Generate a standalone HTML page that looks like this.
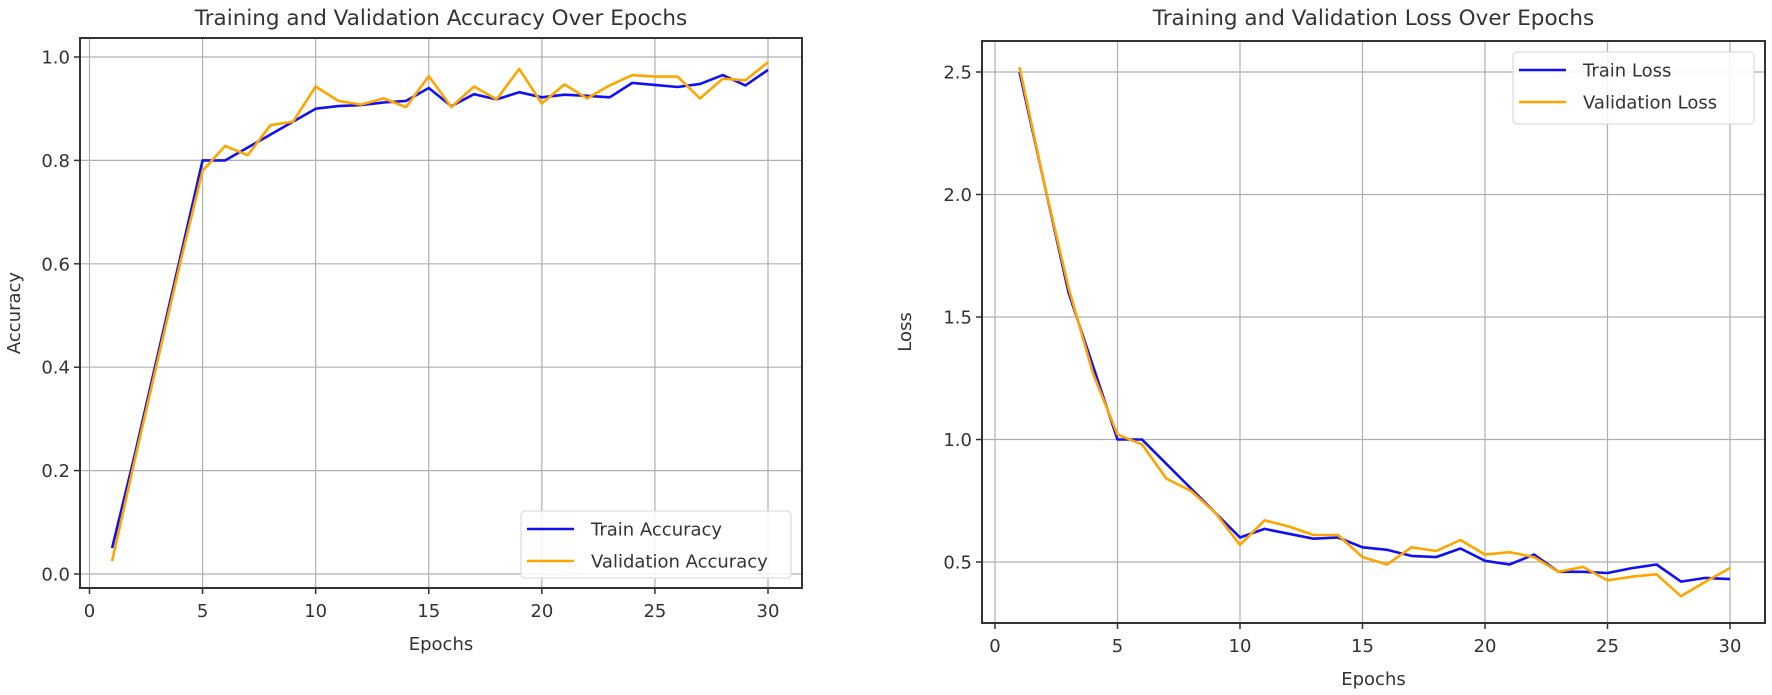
<!DOCTYPE html>
<html><head><meta charset="utf-8"><style>
html,body{margin:0;padding:0;background:#fff;}
svg{display:block;font-family:"DejaVu Sans","Liberation Sans",sans-serif;}
</style></head><body>
<svg id="fig" width="1772" height="695" viewBox="0 0 1772 695"></svg>
<script>
const epochs = [1,2,3,4,5,6,7,8,9,10,11,12,13,14,15,16,17,18,19,20,21,22,23,24,25,26,27,28,29,30];
const trainAcc = [0.05,0.23,0.42,0.61,0.80,0.80,0.825,0.85,0.875,0.90,0.905,0.907,0.912,0.915,0.94,0.905,0.928,0.918,0.932,0.922,0.927,0.925,0.922,0.95,0.946,0.942,0.948,0.965,0.945,0.975];
const valAcc = [0.025,0.22,0.41,0.60,0.78,0.828,0.81,0.868,0.875,0.943,0.915,0.908,0.92,0.903,0.963,0.903,0.943,0.918,0.977,0.91,0.947,0.92,0.945,0.965,0.962,0.962,0.92,0.958,0.955,0.99];
const trainLoss = [2.5,2.05,1.6,1.3,1.0,1.0,0.9,0.8,0.7,0.6,0.635,0.615,0.595,0.6,0.56,0.55,0.525,0.52,0.555,0.505,0.49,0.53,0.46,0.46,0.455,0.475,0.49,0.42,0.435,0.43];
const valLoss = [2.52,2.05,1.62,1.27,1.02,0.98,0.84,0.79,0.7,0.57,0.67,0.645,0.61,0.61,0.52,0.49,0.56,0.545,0.59,0.53,0.54,0.52,0.46,0.48,0.425,0.44,0.45,0.36,0.42,0.475];
const xTicks = [0,5,10,15,20,25,30];
const accTicks = ["0.0","0.2","0.4","0.6","0.8","1.0"];
const lossTicks = ["0.5","1.0","1.5","2.0","2.5"];

const NS="http://www.w3.org/2000/svg";
const svg=document.getElementById('fig');
function mk(tag,attrs,parent){const e=document.createElementNS(NS,tag);for(const k in attrs)e.setAttribute(k,attrs[k]);(parent||svg).appendChild(e);return e;}

function drawPanel(cfg){
  const g=mk('g',{});
  
  
  const X=v=>cfg.x0+(v-0)*(cfg.x30-cfg.x0)/30;
  const Y=v=>cfg.yA+(v-cfg.vA)*(cfg.yB-cfg.yA)/(cfg.vB-cfg.vA);
  // grid
  xTicks.forEach(t=>{
    const l=mk('line',{x1:X(t),x2:X(t),y1:cfg.top,y2:cfg.bottom,stroke:'#b0b0b0','stroke-width':1.2},g);
    
    
  });
  cfg.yTicks.forEach(t=>{
    const v=parseFloat(t);
    const l=mk('line',{x1:cfg.left,x2:cfg.right,y1:Y(v),y2:Y(v),stroke:'#b0b0b0','stroke-width':1.2},g);
    
    
  });
  // series
  const series=[[cfg.train,'#1010f0','train-line'],[cfg.val,'#ffa500','validation-line']];
  series.forEach(([arr,col,nm])=>{
    const pts=arr.map((v,i)=>X(epochs[i]).toFixed(1)+','+Y(v).toFixed(1)).join(' ');
    const p=mk('polyline',{points:pts,fill:'none',stroke:col,'stroke-width':2.6,'stroke-linejoin':'round'},g);
    
    
  });
  // frame
  const fr=mk('rect',{x:cfg.left,y:cfg.top,width:cfg.right-cfg.left,height:cfg.bottom-cfg.top,fill:'none',stroke:'#333','stroke-width':2},g);
  
  
  // x ticks
  xTicks.forEach(t=>{
    mk('line',{x1:X(t),x2:X(t),y1:cfg.bottom,y2:cfg.bottom+6,stroke:'#333','stroke-width':1.5},g);
    const tx=mk('text',{x:X(t),y:cfg.bottom+29,'text-anchor':'middle','font-size':18,fill:'#333'},g);
    tx.textContent=t;
    
    
  });
  cfg.yTicks.forEach(t=>{
    const v=parseFloat(t);
    mk('line',{x1:cfg.left-6,x2:cfg.left,y1:Y(v),y2:Y(v),stroke:'#333','stroke-width':1.5},g);
    const tx=mk('text',{x:cfg.left-10,y:Y(v)+6.5,'text-anchor':'end','font-size':18,fill:'#333'},g);
    tx.textContent=t;
    
    
  });
  const ti=mk('text',{x:(cfg.left+cfg.right)/2,y:25,'text-anchor':'middle','font-size':21.5,fill:'#333'},g);
  ti.textContent=cfg.title;
  
  
  const xl=mk('text',{x:(cfg.left+cfg.right)/2,y:cfg.bottom+62,'text-anchor':'middle','font-size':18,fill:'#333'},g);
  xl.textContent='Epochs';
  
  
  const yc=(cfg.top+cfg.bottom)/2;
  const yl=mk('text',{x:cfg.ylx,y:yc,'text-anchor':'middle','font-size':18,fill:'#333',transform:`rotate(-90 ${cfg.ylx} ${yc})`},g);
  yl.textContent=cfg.ylabel;
  
  
  // legend
  const L=cfg.legend;
  const lg=mk('g',{},g);
  
  
  mk('rect',{x:L.x,y:L.y,width:L.w,height:L.h,rx:4,fill:'#fff','fill-opacity':0.85,stroke:'#ddd','stroke-width':1.2},lg);
  [[cfg.labels[0],'#1010f0',L.y+18],[cfg.labels[1],'#ffa500',L.y+50]].forEach(([lab,col,yy],i)=>{
    const e=mk('g',{},lg);
    
    
    mk('line',{x1:L.x+6,x2:L.x+53,y1:yy,y2:yy,stroke:col,'stroke-width':2.6},e);
    const t=mk('text',{x:L.x+70,y:yy+6.5,'font-size':18,fill:'#333'},e);
    t.textContent=lab;
  });
}

drawPanel({name:'accuracy-chart',left:80,right:802,top:38,bottom:588,x0:89.5,x30:768,
  vA:0,yA:574,vB:1,yB:57,yTicks:accTicks,train:trainAcc,val:valAcc,
  title:'Training and Validation Accuracy Over Epochs',ylabel:'Accuracy',ylx:20,
  labels:['Train Accuracy','Validation Accuracy'],legend:{x:521,y:511,w:270,h:67}});
drawPanel({name:'loss-chart',left:982,right:1765,top:41,bottom:623,x0:995,x30:1730,
  vA:0.5,yA:562,vB:2.5,yB:72,yTicks:lossTicks,train:trainLoss,val:valLoss,
  title:'Training and Validation Loss Over Epochs',ylabel:'Loss',ylx:911,
  labels:['Train Loss','Validation Loss'],legend:{x:1513,y:52,w:241,h:72}});
</script>
</body></html>
